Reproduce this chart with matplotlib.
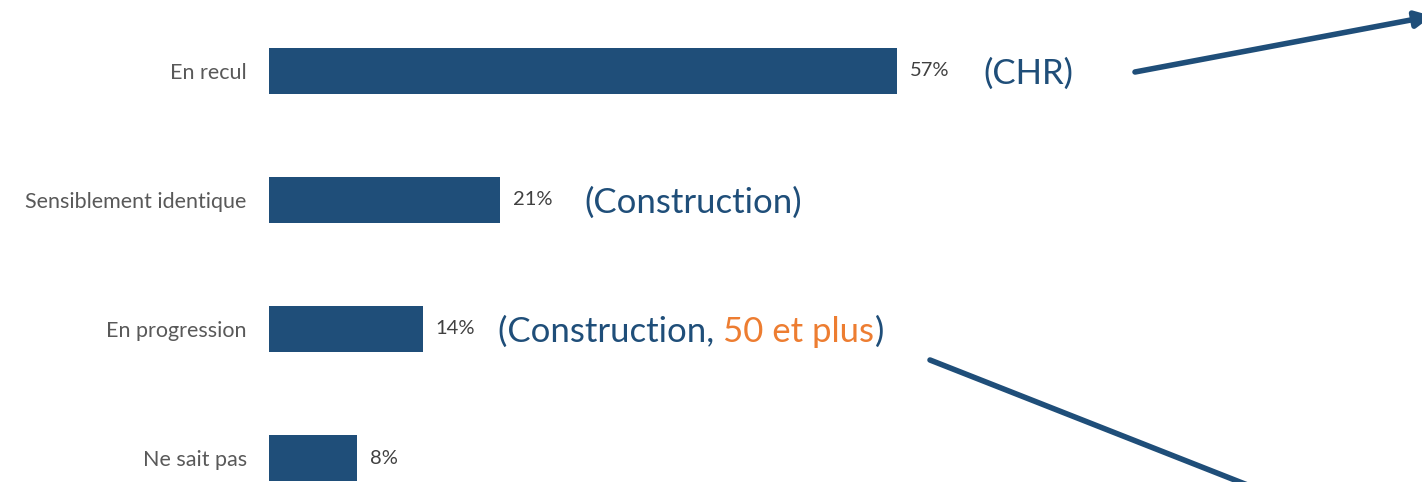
import matplotlib.pyplot as plt
from matplotlib.transforms import offset_copy

# --- données ---
categories = ['En recul', 'Sensiblement identique', 'En progression', 'Ne sait pas']
valeurs = [57, 21, 14, 8]
# annotations : liste de (texte, couleur) par barre
annotations = [
    [('(CHR)', 'bleu')],
    [('(Construction)', 'bleu')],
    [('(Construction, ', 'bleu'), ('50 et plus', 'orange'), (')', 'bleu')],
    [],
]

BLEU = '#1F4E79'
ORANGE = '#ED7D31'
couleurs = {'bleu': BLEU, 'orange': ORANGE}

plt.rcParams['font.family'] = ['Lato', 'DejaVu Sans']

fig = plt.figure(figsize=(14.22, 4.82), dpi=100)
ax = fig.add_axes([269 / 1422, 0, 1 - 269 / 1422, 1])

y = range(len(categories))
ax.barh(y, valeurs, height=0.357, color=BLEU)
ax.set_xlim(0, 104.6)
ax.set_ylim(3.186, -0.550)

ax.set_yticks(list(y))
ax.set_yticklabels(categories, fontsize=15.5, color='#595959')
ax.tick_params(axis='y', length=0, pad=16)
ax.set_xticks([])
for s in ax.spines.values():
    s.set_visible(False)

# étiquettes de valeurs
for i, v in enumerate(valeurs):
    ax.annotate(f'{v}%', (v, i), xytext=(9, 0), textcoords='offset points',
                va='center', ha='left', fontsize=14.5, color='#404040')

# annotations colorées (décalage après l'étiquette)
decalages = [86, 84, 75, 0]
fig.canvas.draw()
renderer = fig.canvas.get_renderer()
for i, morceaux in enumerate(annotations):
    if not morceaux:
        continue
    x_px = 0
    for texte, c in morceaux:
        tr = offset_copy(ax.transData, fig=fig, x=decalages[i] + x_px, y=0, units='dots')
        t = ax.text(valeurs[i], i + 0.02, texte, transform=tr, va='center', ha='left',
                    fontsize=25, color=couleurs[c])
        bb = t.get_window_extent(renderer=renderer)
        x_px += bb.width

# flèches en coordonnées de la figure (pixels)
W, H = 1422, 482
ax.annotate('', xy=(1432 / W, 1 - 16 / H), xytext=(1135 / W, 1 - 72 / H),
            xycoords='figure fraction', textcoords='figure fraction',
            arrowprops=dict(arrowstyle='-|>', color=BLEU, lw=4,
                            mutation_scale=24, shrinkA=0, shrinkB=0),
            annotation_clip=False)
ax.annotate('', xy=(1250 / W, 1 - 486 / H), xytext=(930 / W, 1 - 360 / H),
            xycoords='figure fraction', textcoords='figure fraction',
            arrowprops=dict(arrowstyle='-', color=BLEU, lw=4,
                            shrinkA=0, shrinkB=0),
            annotation_clip=False)

fig.savefig('out.png', dpi=100)
